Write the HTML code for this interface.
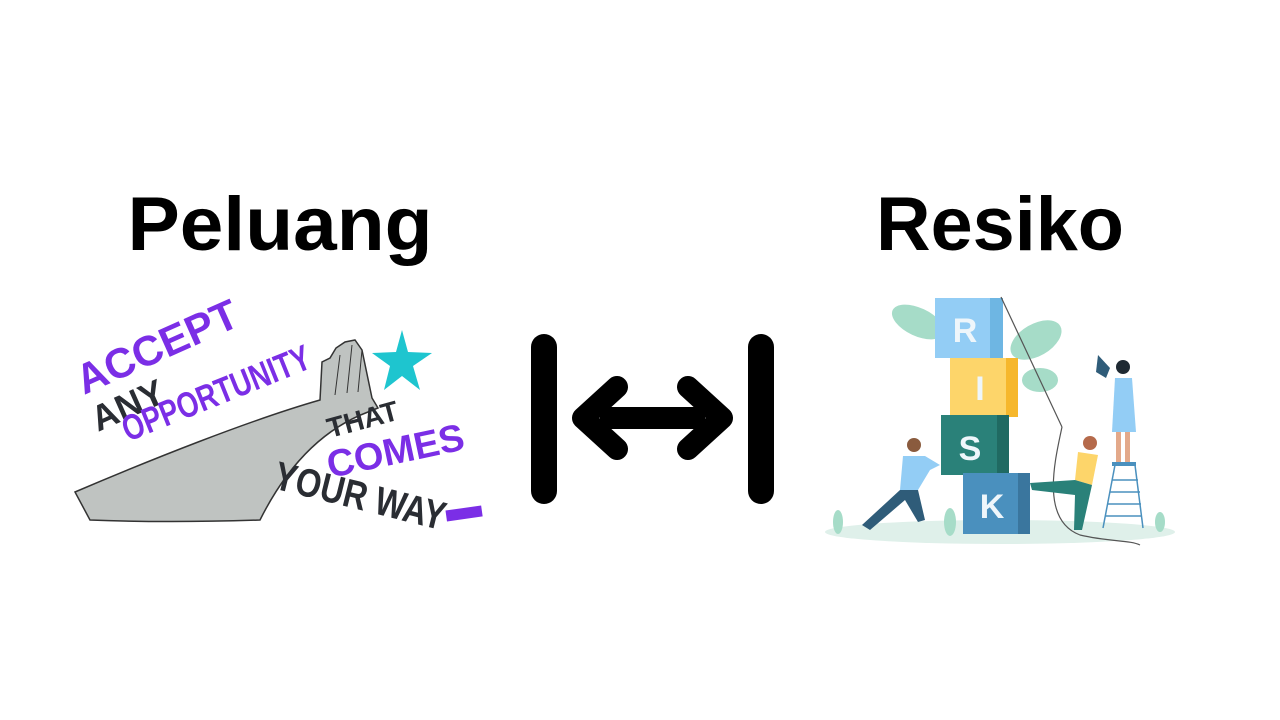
<!DOCTYPE html>
<html><head><meta charset="utf-8"><style>
html,body{margin:0;padding:0;background:#fff;width:1280px;height:720px;overflow:hidden}
svg{position:absolute;left:0;top:0}
</style></head><body>
<svg width="1280" height="720" viewBox="0 0 1280 720" xmlns="http://www.w3.org/2000/svg">
<text x="280" y="250" font-family="Liberation Sans, sans-serif" font-weight="bold" font-size="76" text-anchor="middle" fill="#000" textLength="305" lengthAdjust="spacingAndGlyphs">Peluang</text>
<text x="1000" y="250" font-family="Liberation Sans, sans-serif" font-weight="bold" font-size="76" text-anchor="middle" fill="#000" textLength="248" lengthAdjust="spacingAndGlyphs">Resiko</text>

<line x1="544" y1="347" x2="544" y2="491" stroke="#000" stroke-width="26" stroke-linecap="round"/>
<line x1="761" y1="347" x2="761" y2="491" stroke="#000" stroke-width="26" stroke-linecap="round"/>
<line x1="600" y1="418" x2="705" y2="418" stroke="#000" stroke-width="22"/>
<polyline points="617,387 583,418 617,449" fill="none" stroke="#000" stroke-width="22" stroke-linecap="round" stroke-linejoin="round"/>
<polyline points="688,387 722,418 688,449" fill="none" stroke="#000" stroke-width="22" stroke-linecap="round" stroke-linejoin="round"/>

<path d="M75,492 C150,460 250,420 320,400 L322,362 L330,358 L336,348 L345,342 L355,340 L362,350 L372,398 L378,408 L368,412 C320,430 285,470 260,520 C200,522 140,522 90,520 Z" fill="#bfc3c1" stroke="#333" stroke-width="1.5"/>
<path d="M335,395 L340,355 M347,393 L352,345 M358,392 L362,350" stroke="#333" stroke-width="1" fill="none"/>
<polygon points="402,330 408,352 432,353 413,366 420,390 402,376 384,390 390,366 372,353 396,352" fill="#1ec5cf"/>
<g font-family="Liberation Sans, sans-serif" font-weight="bold">
<text x="84" y="395" font-size="42" fill="#7b2ee6" transform="rotate(-24 84 395)">ACCEPT</text>
<text x="98" y="432" font-size="36" fill="#2a2d33" transform="rotate(-24 98 432)">ANY</text>
<text x="128" y="442" font-size="36" fill="#7b2ee6" transform="rotate(-22 128 442)" textLength="200" lengthAdjust="spacingAndGlyphs">OPPORTUNITY</text>
<text x="330" y="438" font-size="28" fill="#2a2d33" transform="rotate(-15 330 438)">THAT</text>
<text x="330" y="478" font-size="38" fill="#7b2ee6" transform="rotate(-12 330 478)">COMES</text>
<text x="272" y="488" font-size="40" fill="#2a2d33" transform="rotate(14 272 488)" textLength="175" lengthAdjust="spacingAndGlyphs">YOUR WAY</text>
</g>
<rect x="446" y="508" width="36" height="11" fill="#7b2ee6" transform="rotate(-8 464 513)"/>

<ellipse cx="1000" cy="532" rx="175" ry="12" fill="#dff0ea"/>
<ellipse cx="918" cy="322" rx="28" ry="14" fill="#a6dcc8" transform="rotate(25 918 322)"/>
<ellipse cx="1036" cy="340" rx="28" ry="16" fill="#a6dcc8" transform="rotate(-30 1036 340)"/>
<ellipse cx="1040" cy="380" rx="18" ry="12" fill="#a6dcc8"/>
<rect x="935" y="298" width="68" height="60" fill="#93cdf5"/>
<rect x="990" y="298" width="13" height="60" fill="#6eb6e3"/>
<rect x="950" y="358" width="68" height="59" fill="#fdd56a"/>
<rect x="1006" y="358" width="12" height="59" fill="#f6b72c"/>
<rect x="941" y="415" width="68" height="60" fill="#2a8179"/>
<rect x="997" y="415" width="12" height="60" fill="#206a62"/>
<rect x="963" y="473" width="67" height="61" fill="#4a90be"/>
<rect x="1018" y="473" width="12" height="61" fill="#3a769e"/>
<g font-family="Liberation Sans, sans-serif" font-weight="bold" font-size="34" fill="#eef6fb" text-anchor="middle">
<text x="965" y="342">R</text><text x="980" y="400">I</text><text x="970" y="460">S</text><text x="992" y="518">K</text>
</g>
<line x1="1001" y1="297" x2="1062" y2="427" stroke="#555" stroke-width="1.2"/>
<path d="M1062,427 C1055,460 1040,520 1080,535 C1110,542 1130,540 1140,545" fill="none" stroke="#555" stroke-width="1.2"/>
<circle cx="914" cy="445" r="7" fill="#8a5b3e"/>
<path d="M903,456 L925,456 L940,465 L930,470 L918,490 L900,490 Z" fill="#93cdf5"/>
<path d="M900,490 L918,490 L925,520 L918,522 L905,500 L870,530 L862,525 Z" fill="#2f5c79"/>
<circle cx="1090" cy="443" r="7" fill="#b56a4b"/>
<path d="M1078,452 L1098,455 L1092,485 L1075,480 Z" fill="#fdd56a"/>
<path d="M1075,480 L1092,485 L1082,530 L1074,530 L1075,495 L1032,490 L1030,483 Z" fill="#2a8179"/>
<circle cx="1123" cy="367" r="7" fill="#1f2a33"/>
<path d="M1115,378 L1132,378 L1136,432 L1112,432 Z" fill="#93cdf5"/>
<rect x="1116" y="432" width="5" height="30" fill="#e3a98a"/><rect x="1125" y="432" width="5" height="30" fill="#e3a98a"/>
<path d="M1098,355 L1110,368 L1106,378 L1096,372 Z" fill="#2f5c79"/>
<g stroke="#4a90be" stroke-width="1.5" fill="none">
<line x1="1115" y1="465" x2="1103" y2="528"/><line x1="1135" y1="465" x2="1143" y2="528"/>
<line x1="1112" y1="480" x2="1138" y2="480"/><line x1="1110" y1="492" x2="1140" y2="492"/><line x1="1107" y1="504" x2="1141" y2="504"/><line x1="1105" y1="516" x2="1142" y2="516"/>
</g>
<rect x="1112" y="462" width="24" height="4" fill="#4a90be"/>
<g fill="#a6dcc8">
<ellipse cx="838" cy="522" rx="5" ry="12"/><ellipse cx="950" cy="522" rx="6" ry="14"/><ellipse cx="1160" cy="522" rx="5" ry="10"/>
</g>
</svg>
</body></html>
